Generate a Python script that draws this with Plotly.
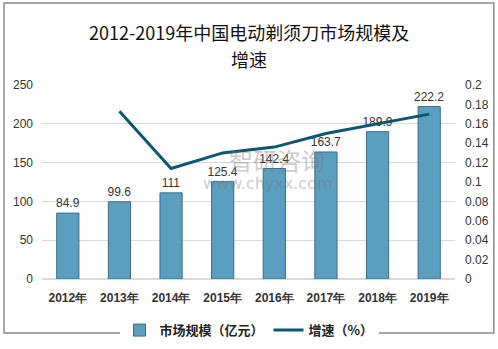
import plotly.graph_objects as go

years = ["2012年", "2013年", "2014年", "2015年", "2016年", "2017年", "2018年", "2019年"]
market = [84.9, 99.6, 111, 125.4, 142.4, 163.7, 189.9, 222.2]
growth_years = ["2013年", "2014年", "2015年", "2016年", "2017年", "2018年", "2019年"]
growth = [0.173, 0.114, 0.130, 0.136, 0.150, 0.160, 0.170]
left_ticks = [0, 50, 100, 150, 200, 250]
right_ticks = [0, 0.02, 0.04, 0.06, 0.08, 0.1, 0.12, 0.14, 0.16, 0.18, 0.2]

font_main = "Noto Sans CJK SC"
tick_font = "Liberation Sans, Arial"

fig = go.Figure()
fig.add_trace(go.Bar(
    x=years, y=market, name="市场规模（亿元）",
    marker=dict(color="#5a9ec0", line=dict(color="#3d6d85", width=1)),
    width=0.43,
    text=[f"{v:g}" for v in market], textposition="outside",
    textfont=dict(size=12, color="#333333", family=tick_font),
    constraintext="none",
    cliponaxis=False,
))
fig.add_trace(go.Scatter(
    x=growth_years, y=growth, name="增速（%）", yaxis="y2",
    mode="lines", line=dict(color="#0d5670", width=3),
))

fig.update_layout(
    width=498, height=349,
    margin=dict(l=42, r=43, t=85, b=70, autoexpand=False),
    paper_bgcolor="white", plot_bgcolor="white",
    font=dict(family=font_main, size=11, color="#333333"),
    xaxis=dict(showgrid=False, showline=False, ticks="", automargin=False,
               ticklabelstandoff=10,
               tickfont=dict(size=12, color="#333333", family=tick_font, weight="bold"),
               type="category"),
    yaxis=dict(range=[0, 250], tickvals=left_ticks, showgrid=True, gridcolor="#d9d9d9",
               zeroline=True, zerolinecolor="#d9d9d9", showline=False, ticks="",
               automargin=False, ticklabelstandoff=8,
               tickfont=dict(size=12, color="#333333", family=tick_font)),
    yaxis2=dict(range=[0, 0.2], tickvals=right_ticks, overlaying="y", side="right",
                showgrid=False, zeroline=False, showline=False, ticks="",
                automargin=False, ticklabelstandoff=9,
                tickfont=dict(size=12, color="#333333", family=tick_font)),
    legend=dict(orientation="h", x=0.5, xanchor="center", xref="container",
                y=0.054, yanchor="middle", yref="container",
                font=dict(size=13, color="#222222", family=font_main, weight="bold"),
                itemwidth=30, traceorder="normal"),
    shapes=[dict(type="rect", xref="paper", yref="paper", x0=-0.092, x1=1.094,
                 y0=-0.278, y1=1.423, line=dict(color="#8c8c8c", width=1.5))],
    annotations=[
        dict(text="2012-2019年中国电动剃须刀市场规模及", xref="paper", yref="paper",
             x=0.50, y=(279 - 32) / 194, showarrow=False, yanchor="middle",
             font=dict(size=18, color="#111111", family=font_main)),
        dict(text="增速", xref="paper", yref="paper",
             x=0.50, y=(279 - 59) / 194, showarrow=False, yanchor="middle",
             font=dict(size=18, color="#111111", family=font_main)),
        dict(text="智研咨询", xref="paper", yref="paper", x=0.57, y=0.615, showarrow=False,
             font=dict(size=24, color="rgba(120,120,120,0.40)", family=font_main)),
        dict(text="www.chyxx.com", xref="paper", yref="paper", x=0.545, y=0.49, showarrow=False,
             font=dict(size=16, color="rgba(120,120,120,0.40)", family="DejaVu Sans")),
    ],
)

fig.write_html("out.html")
